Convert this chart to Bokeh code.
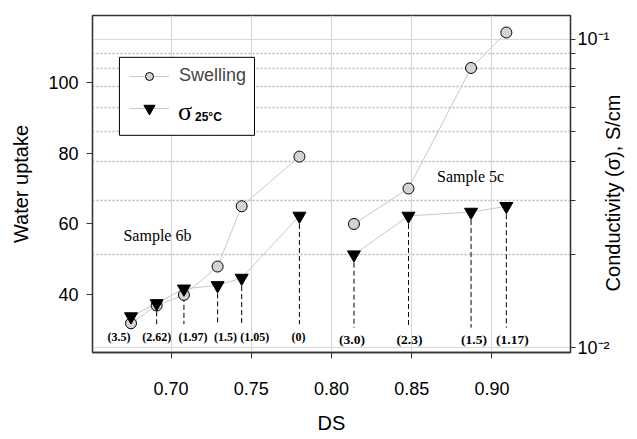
import math
from bokeh.plotting import figure
from bokeh.models import (Range1d, LogScale, LogAxis, FixedTicker, Grid, ColumnDataSource,
                          Legend, LegendItem, BoxAnnotation, Label, PrintfTickFormatter)
from bokeh.core.properties import value
from bokeh.embed import file_html
from bokeh.resources import INLINE

# ---------------- data ----------------
ds_6b = [0.675, 0.691, 0.708, 0.729, 0.744, 0.780]
swell_6b = [32, 37, 40, 48, 65, 79]
sigma_6b = [0.0126, 0.0139, 0.0155, 0.0159, 0.0168, 0.0267]
labels_6b = ["(3.5)", "(2.62)", "(1.97)", "(1.5)", "(1.05)", "(0)"]

ds_5c = [0.814, 0.848, 0.887, 0.909]
swell_5c = [60, 70, 104, 114]
sigma_5c = [0.0200, 0.0267, 0.0275, 0.0287]
labels_5c = ["(3.0)", "(2.3)", "(1.5)", "(1.17)"]

x_ticks = [0.70, 0.75, 0.80, 0.85, 0.90]
left_ticks = [40, 60, 80, 100]
right_major = [0.01, 0.1]
right_major_labels = ["10⁻²", "10⁻¹"]
right_minor = [0.02, 0.03, 0.04, 0.05, 0.06, 0.07, 0.08, 0.09]

# label pixel shifts (layout only)
dx_6b = [-12, 0, 9, 8, 13, -1]
dx_5c = [-2, 1, 3, 6]

SANS = "Liberation Sans"
SERIF = "Liberation Serif"
FRAME = "#333333"
LINE_GREY = "#c8c8c8"

p = figure(width=637, height=439, x_range=Range1d(0.651, 0.949), y_range=Range1d(23.75, 118.8),
           output_backend="svg", toolbar_location=None, title=None,
           min_border_left=92, min_border_right=63, min_border_top=15, min_border_bottom=87)
p.outline_line_color = FRAME
p.outline_line_width = 1.3
p.background_fill_color = "white"

# x axis
xa = p.xaxis[0]
xa.ticker = FixedTicker(ticks=x_ticks)
xa.formatter = PrintfTickFormatter(format="%.2f")
xa.axis_label = "DS"
# left axis
ya = p.yaxis[0]
ya.ticker = FixedTicker(ticks=left_ticks)
ya.axis_label = "Water uptake"
for ax in (xa, ya):
    ax.axis_line_color = FRAME
    ax.axis_line_width = 1.3
    ax.major_tick_line_color = FRAME
    ax.major_tick_out = 6
    ax.major_tick_in = 0
    ax.minor_tick_line_color = None
    ax.major_label_text_font = SANS
    ax.major_label_text_font_size = "18px"
    ax.major_label_text_color = "black"
    ax.axis_label_text_font = SANS
    ax.axis_label_text_font_size = "20px"
    ax.axis_label_text_font_style = "normal"
    ax.axis_label_text_color = "black"
xa.major_label_standoff = 23
xa.axis_label_standoff = 14
ya.major_label_standoff = 8
ya.axis_label_standoff = 13

# right log axis; its title reads bottom-to-top as in the reference
p.extra_y_ranges = {"sig": Range1d(10 ** -2.0162, 10 ** -0.9235)}
p.extra_y_scales = {"sig": LogScale()}
ra = LogAxis(y_range_name="sig", ticker=FixedTicker(ticks=right_major, minor_ticks=right_minor))
ra.major_label_overrides = {t: s for t, s in zip(right_major, right_major_labels)}
ra.axis_line_color = FRAME
ra.axis_line_width = 1.3
ra.major_tick_line_color = FRAME
ra.minor_tick_line_color = FRAME
ra.major_tick_out = 5
ra.major_tick_in = 0
ra.minor_tick_out = 5
ra.minor_tick_in = 0
ra.major_label_text_font = SANS
ra.major_label_text_font_size = "18px"
ra.major_label_text_color = "black"
ra.major_label_standoff = 2
ra.axis_label = "\u00a0" * 11 + "Conductivity (σ), S/cm"
ra.axis_label_orientation = math.pi / 2
ra.axis_label_align = "start"
ra.axis_label_standoff = 0
ra.axis_label_text_font = SANS
ra.axis_label_text_font_size = "20px"
ra.axis_label_text_font_style = "normal"
ra.axis_label_text_color = "black"
p.add_layout(ra, "right")

# grids
p.ygrid.visible = False
p.xgrid.ticker = FixedTicker(ticks=x_ticks)
p.xgrid.grid_line_color = "#d9d9d9"
p.xgrid.grid_line_width = 1.2
rg = Grid(dimension=1, ticker=FixedTicker(ticks=right_major, minor_ticks=right_minor),
          y_range_name="sig", grid_line_color="#d9d9d9", grid_line_width=1.2,
          minor_grid_line_color="#b8b8b8", minor_grid_line_dash="2 2", minor_grid_line_width=1.3)
p.add_layout(rg)

# connecting lines
sw_line = p.line(ds_6b, swell_6b, line_color=LINE_GREY, line_width=1)
p.line(ds_5c, swell_5c, line_color=LINE_GREY, line_width=1)
sg_line = p.line(ds_6b, sigma_6b, line_color=LINE_GREY, line_width=1, y_range_name="sig")
p.line(ds_5c, sigma_5c, line_color=LINE_GREY, line_width=1, y_range_name="sig")

# drop lines
p.segment(x0=ds_6b, y0=sigma_6b, x1=ds_6b, y1=0.0119, line_color="black", line_width=1,
          line_dash="5 3", y_range_name="sig")
p.segment(x0=ds_5c, y0=sigma_5c, x1=ds_5c, y1=0.0116, line_color="black", line_width=1,
          line_dash="5 3", y_range_name="sig")

# markers
sw_pts = p.scatter(ds_6b + ds_5c, swell_6b + swell_5c, marker="circle", size=11,
                   fill_color="#d3d3d3", line_color="black", line_width=1)
sg_pts = p.scatter(ds_6b + ds_5c, sigma_6b + sigma_5c, marker="inverted_triangle", size=13,
                   fill_color="black", line_color="black", y_range_name="sig")

# value labels
src6 = ColumnDataSource(dict(x=ds_6b, t=labels_6b, dx=dx_6b))
p.text(x="x", y=28.25, text="t", x_offset="dx", source=src6, text_font=value(SERIF),
       text_font_style="bold", text_font_size="12px", text_align="center",
       text_baseline="middle", text_color="black")
src5 = ColumnDataSource(dict(x=ds_5c, t=labels_5c, dx=dx_5c))
p.text(x="x", y=27.4, text="t", x_offset="dx", source=src5, text_font=value(SERIF),
       text_font_style="bold", text_font_size="13.5px", text_align="center",
       text_baseline="middle", text_color="black")

# sample annotations
p.add_layout(Label(x=0.6703, y=56.7, text="Sample 6b", text_font=SERIF, text_font_size="16px",
                   text_baseline="middle", text_color="black"))
p.add_layout(Label(x=0.8658, y=73.3, text="Sample 5c", text_font=SERIF, text_font_size="16px",
                   text_baseline="middle", text_color="black"))

# legend
p.add_layout(BoxAnnotation(left=0.6678, right=0.752, top=107.0, bottom=85.0,
                           fill_color="white", fill_alpha=1, line_color="black",
                           line_alpha=1, line_width=1))
leg1 = Legend(items=[LegendItem(label="Swelling", renderers=[sw_line, sw_pts])],
              location=(37, 266), padding=0, margin=0, spacing=0,
              glyph_width=40, glyph_height=20, label_height=20, label_standoff=10,
              label_text_font=SANS, label_text_font_size="18px",
              background_fill_alpha=0, border_line_alpha=0)
leg2 = Legend(items=[LegendItem(label=" ", renderers=[sg_line, sg_pts])],
              location=(37, 230), padding=0, margin=0, spacing=0,
              glyph_width=40, glyph_height=28, label_height=28, label_standoff=10,
              label_text_font=SANS, label_text_font_size="18px",
              background_fill_alpha=0, border_line_alpha=0)
p.add_layout(leg1)
p.add_layout(leg2)
p.add_layout(Label(x=0.7043, y=91.6, text="σ", text_font=SERIF, text_font_size="26px",
                   text_baseline="alphabetic", text_color="black"))
p.add_layout(Label(x=0.7149, y=90.3, text="25°C", text_font=SANS, text_font_style="bold",
                   text_font_size="12px", text_baseline="middle", text_color="black"))

open("out.html", "w").write(file_html(p, INLINE))
